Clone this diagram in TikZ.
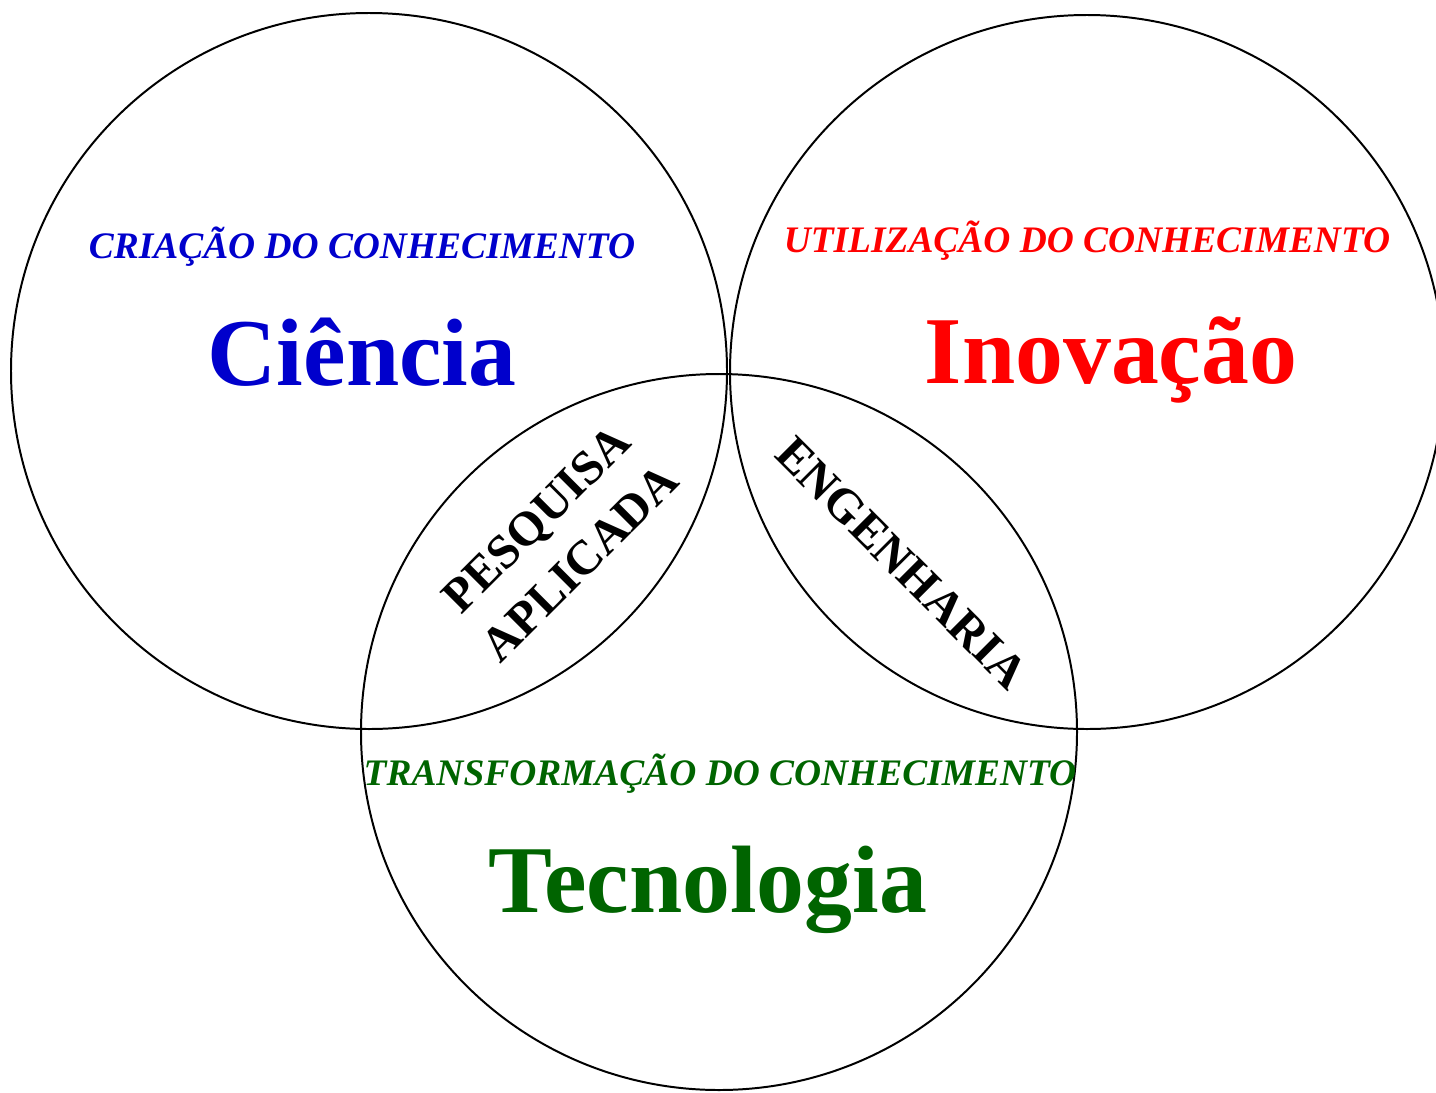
\documentclass[tikz,border=0pt]{standalone}
\usepackage{fontspec}
\setmainfont{Liberation Serif}
\usetikzlibrary{positioning}
\definecolor{cienciablue}{RGB}{0,0,204}
\definecolor{inovred}{RGB}{255,0,0}
\definecolor{tecgreen}{RGB}{0,100,0}

\tikzset{
  area/.style={draw=black, line width=1.13pt},
  subtit/.style={anchor=base, font=\fontsize{21.3}{25}\selectfont\bfseries\itshape},
  bigtit/.style={anchor=base, font=\fontsize{54.5}{60}\selectfont\bfseries},
  inter/.style={align=center, font=\fontsize{27.5}{35}\selectfont\bfseries}
}

\begin{document}
\begin{tikzpicture}[x=0.02cm,y=-0.02cm]
\useasboundingbox (0,0) rectangle (1436,1092);

% the three circles
\draw[area] (369,371) circle [radius=358];
\draw[area] (1087,372) circle [radius=357];
\draw[area] (719,732) circle [radius=358];

% Ciencia
\node[subtit, text=cienciablue] (criacao) at (362,258) {CRIAÇÃO DO CONHECIMENTO};
\node[bigtit, text=cienciablue] (ciencia) at (362,385) {Ciência};

% Inovacao
\node[subtit, text=inovred] (utilizacao) at (1087,252) {UTILIZAÇÃO DO CONHECIMENTO};
\node[bigtit, text=inovred] (inovacao) at (1111,383) {Inovação};

% Tecnologia
\node[subtit, text=tecgreen] (transformacao) at (720,785) {TRANSFORMAÇÃO DO CONHECIMENTO};
\node[bigtit, text=tecgreen] (tecnologia) at (708,912) {Tecnologia};

% intersections
\node[inter, rotate=45] (pesquisa) at (558,541) {PESQUISA\\APLICADA};
\node[inter, rotate=-45] (engenharia) at (902,563) {ENGENHARIA};

\end{tikzpicture}
\end{document}
